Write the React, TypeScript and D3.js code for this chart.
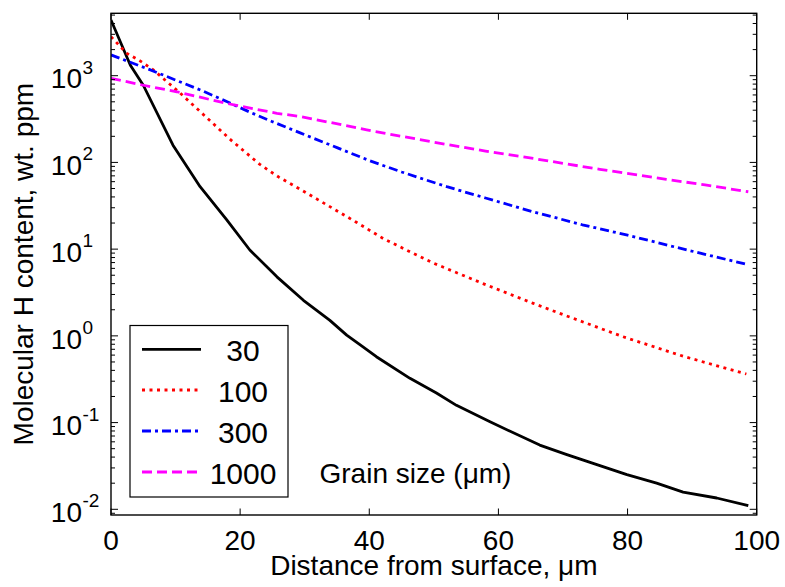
import React from "react";
import * as d3 from "d3";

// ---- data ----
const xTicks = [0, 20, 40, 60, 80, 100];
const yExponents = [-2, -1, 0, 1, 2, 3];
const legendLabels = ["30", "100", "300", "1000"];

const x30 = [0, 3, 5, 9.6, 13.8, 17.9, 21.5, 25.7, 29.8, 33.9, 36.5, 38.6, 41.1, 46.3, 50.4, 53.5, 58.7, 66.4, 70.6, 79.9, 84.5, 88.6, 93.8, 98.7];
const y30 = [4385, 1318, 776, 158, 52.5, 21.9, 9.77, 4.79, 2.57, 1.51, 1.02, 0.785, 0.575, 0.324, 0.219, 0.158, 0.102, 0.055, 0.0427, 0.0251, 0.02, 0.0158, 0.0135, 0.011];

const x100 = [0, 2.4, 4.5, 6.5, 10.7, 15.5, 18.4, 23, 26, 29.3, 35.5, 38, 42.2, 46.3, 49.9, 57.7, 65.4, 70, 79.3, 88.6, 98.4];
const y100 = [2818, 1820, 1479, 1175, 631, 295, 186, 95.5, 67.6, 49.0, 26.3, 20.4, 13.2, 9.33, 6.92, 3.98, 2.37, 1.76, 0.977, 0.582, 0.363];

const x300 = [0, 6, 10, 14, 18, 21.5, 25, 29.3, 35, 40, 45, 52, 58, 65.4, 73, 80, 86, 92, 98.7];
const y300 = [1738, 1175, 891, 676, 501, 380, 295, 219, 148, 105, 77.6, 52.5, 38.9, 26.9, 19.1, 14.5, 11.2, 8.71, 6.61];

const x1000 = [0, 5, 10.2, 17.9, 25.7, 29.3, 36, 39.6, 45, 51, 58, 65.4, 75.7, 86, 92, 98.7];
const y1000 = [933, 776, 653, 479, 368, 339, 269, 237, 200, 166, 135, 111, 83.2, 63.8, 55.0, 45.9];

// ---- layout ----
const W = 785;
const H = 587;
const L = 111;
const R = 756.7;
const T = 13.3;
const B = 515;

const FONT = "'Liberation Sans', Arial, Helvetica, sans-serif";

export default function App() {
  const x = d3.scaleLinear().domain([0, 100]).range([L, R]);
  const y = d3.scaleLog().domain([1e-2, 1e3]).range([509.3, 75.7]);
  const yLo = y.invert(B);
  const yHi = y.invert(T);

  const series = [
    { xs: x30, ys: y30, color: "#000000", dash: "none", width: 2.8 },
    { xs: x100, ys: y100, color: "#ff0000", dash: "3,4.5", width: 2.8 },
    { xs: x300, ys: y300, color: "#0000ff", dash: "9,4,3,4", width: 2.8 },
    { xs: x1000, ys: y1000, color: "#ff00ff", dash: "10,5", width: 2.8 },
  ];

  const line = d3
    .line<[number, number]>()
    .x((d) => x(d[0]))
    .y((d) => y(d[1]));

  const minor: number[] = [];
  for (let k = -3; k <= 3; k++) {
    for (let m = 2; m <= 9; m++) {
      const v = m * Math.pow(10, k);
      if (v > yLo && v < yHi) minor.push(v);
    }
  }

  const legendRows = [349.3, 390, 431, 472];
  const axisColor = "#000";

  return (
    <svg width={W} height={H} style={{ position: "absolute", left: 0, top: 0, background: "#fff" }} fontFamily={FONT}>
      <rect x={0} y={0} width={W} height={H} fill="#fff" />
      <defs>
        <clipPath id="plot">
          <rect x={L} y={T} width={R - L} height={B - T} />
        </clipPath>
      </defs>

      {/* series */}
      <g clipPath="url(#plot)">
        {series.map((s, i) => (
          <path
            key={i}
            d={line(s.xs.map((xv, j) => [xv, s.ys[j]] as [number, number])) || ""}
            fill="none"
            stroke={s.color}
            strokeWidth={s.width}
            strokeDasharray={s.dash}
            strokeLinejoin="round"
          />
        ))}
      </g>

      {/* axes frame */}
      <rect x={L} y={T} width={R - L} height={B - T} fill="none" stroke={axisColor} strokeWidth={1.4} />

      {/* x ticks */}
      {xTicks.map((t) => (
        <g key={"xt" + t}>
          <line x1={x(t)} x2={x(t)} y1={B} y2={B - 6.5} stroke={axisColor} strokeWidth={1} />
          <line x1={x(t)} x2={x(t)} y1={T} y2={T + 6.5} stroke={axisColor} strokeWidth={1} />
          <text x={x(t)} y={550} textAnchor="middle" fontSize={28} fill="#000">
            {t}
          </text>
        </g>
      ))}

      {/* y major ticks */}
      {yExponents.map((e) => {
        const py = y(Math.pow(10, e));
        return (
          <g key={"ye" + e}>
            <line x1={L} x2={L + 7} y1={py} y2={py} stroke={axisColor} strokeWidth={1} />
            <line x1={R} x2={R - 7} y1={py} y2={py} stroke={axisColor} strokeWidth={1} />
            <text x={82} y={py + 12.7} textAnchor="end" fontSize={28} fill="#000">
              10
            </text>
            <text x={82.5} y={py - 2} textAnchor="start" fontSize={19} fill="#000">
              {e < 0 ? "-" + Math.abs(e) : String(e)}
            </text>
          </g>
        );
      })}

      {/* y minor ticks */}
      {minor.map((v, i) => {
        const py = y(v);
        return (
          <g key={"ym" + i}>
            <line x1={L} x2={L + 4} y1={py} y2={py} stroke={axisColor} strokeWidth={1} />
            <line x1={R} x2={R - 4} y1={py} y2={py} stroke={axisColor} strokeWidth={1} />
          </g>
        );
      })}

      {/* axis labels */}
      <text x={(L + R) / 2} y={575} textAnchor="middle" fontSize={28} fill="#000">
        Distance from surface, μm
      </text>
      <text transform={`translate(33.3, ${(T + B) / 2}) rotate(-90)`} textAnchor="middle" fontSize={28} fill="#000">
        Molecular H content, wt. ppm
      </text>

      {/* legend */}
      <rect x={130} y={325.5} width={158} height={171.5} fill="#fff" stroke="#000" strokeWidth={1.2} />
      {series.map((s, i) => (
        <g key={"lg" + i}>
          <line
            x1={142}
            x2={201}
            y1={legendRows[i]}
            y2={legendRows[i]}
            stroke={s.color}
            strokeWidth={s.width}
            strokeDasharray={s.dash}
          />
          <text x={243} y={legendRows[i] + 12} textAnchor="middle" fontSize={30} fill="#000">
            {legendLabels[i]}
          </text>
        </g>
      ))}

      <text x={319.5} y={482.7} textAnchor="start" fontSize={28} fill="#000">
        Grain size (μm)
      </text>
    </svg>
  );
}
